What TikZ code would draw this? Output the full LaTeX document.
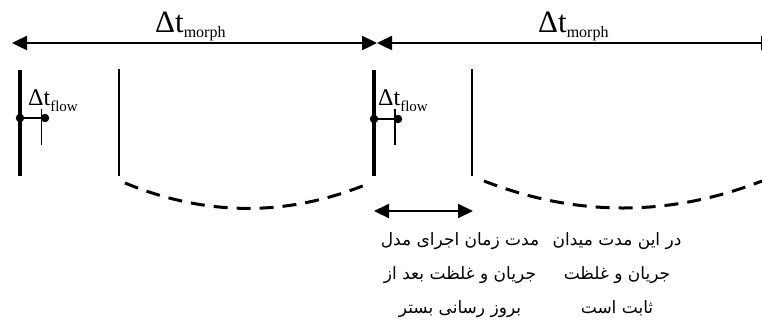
\documentclass[tikz,border=0pt]{standalone}
\usepackage{fontspec}
\setmainfont{Liberation Serif}
\newfontfamily\farsi[Script=Arabic]{DejaVu Sans}
\TeXXeTstate=1
\usetikzlibrary{arrows.meta,positioning}

\tikzset{
  span/.style={{Triangle[length=15pt,width=14pt]}-{Triangle[length=15pt,width=14pt]}, line width=2.4pt},
  update/.style={line width=4.5pt},
  solve/.style={line width=1.4pt},
  frozen/.style={line width=3pt, dash pattern=on 14pt off 9pt},
  stamp/.style={circle, fill, inner sep=0pt, minimum size=8.5pt},
  bigdt/.style={inner sep=0pt, font=\fontsize{31}{31}\selectfont},
  smalldt/.style={inner sep=0pt, font=\fontsize{24}{24}\selectfont},
  farsitext/.style={align=center, inner sep=0pt, font=\farsi\fontsize{17}{34}\selectfont}
}
% Delta t with a lowered index
\newcommand{\dtlabel}[3]{Δt\raisebox{-#3pt}{\fontsize{#2}{#2}\selectfont #1}}

\begin{document}
\begin{tikzpicture}[x=1pt,y=-1pt]
    \useasboundingbox (0,0) rectangle (762,333);
    \clip (0,0) rectangle (762,333);
    % bed updates and end of flow runs
    \coordinate (m0) at (12,43);
    \coordinate (m1) at (377,43);
    \coordinate (m2) at (776,43);
    \draw[update] (20,70) -- (20,176);
    \draw[update] (374,70) -- (374,176);
    \draw[solve] (119,69) -- (119,176);
    \draw[solve] (472,69) -- (472,176);
    % morph steps
    \draw[span] (m0) -- (m1);
    \draw[span] (m1) -- (m2);
    \node[bigdt, anchor=base west] (morphA) at (155,32) {\dtlabel{morph}{16}{5}};
    \node[bigdt, anchor=base west] (morphB) at (538,32) {\dtlabel{morph}{16}{5}};
    % flow steps
    \node[stamp] (fa0) at (20,118) {};
    \node[stamp] (fa1) at (45,118) {};
    \draw[line width=2pt] (fa0) -- (fa1);
    \draw[solve] (41.5,109) -- (41.5,145);
    \node[smalldt, anchor=base west] (flowA) at (28,105) {\dtlabel{flow}{15}{6}};
    \node[stamp] (fb0) at (374,119) {};
    \node[stamp] (fb1) at (398,119) {};
    \draw[line width=2pt] (fb0) -- (fb1);
    \draw[solve] (395,109) -- (395,145);
    \node[smalldt, anchor=base west] (flowB) at (378,105) {\dtlabel{flow}{15}{6}};
    % fixed bed
    \draw[frozen] (125,183) .. controls (205,216) and (285,217) .. (365,185);
    \draw[frozen] (484,181) .. controls (577,217) and (669,217) .. (762,181);
    % run time of the model
    \coordinate (r0) at (374,211);
    \coordinate (r1) at (473,211);
    \draw[span, line width=2pt] (r0) -- (r1);
    % captions
    \node[farsitext, anchor=north] (runtext) at (460,232)
      {\beginR مدت زمان اجرای مدل\endR\\ \beginR جریان و غلظت بعد از\endR\\ \beginR بروز رسانی بستر\endR};
    \node[farsitext, anchor=north] (fixtext) at (617,232)
      {\beginR در این مدت میدان\endR\\ \beginR جریان و غلظت\endR\\ \beginR ثابت است\endR};
\end{tikzpicture}
\end{document}
